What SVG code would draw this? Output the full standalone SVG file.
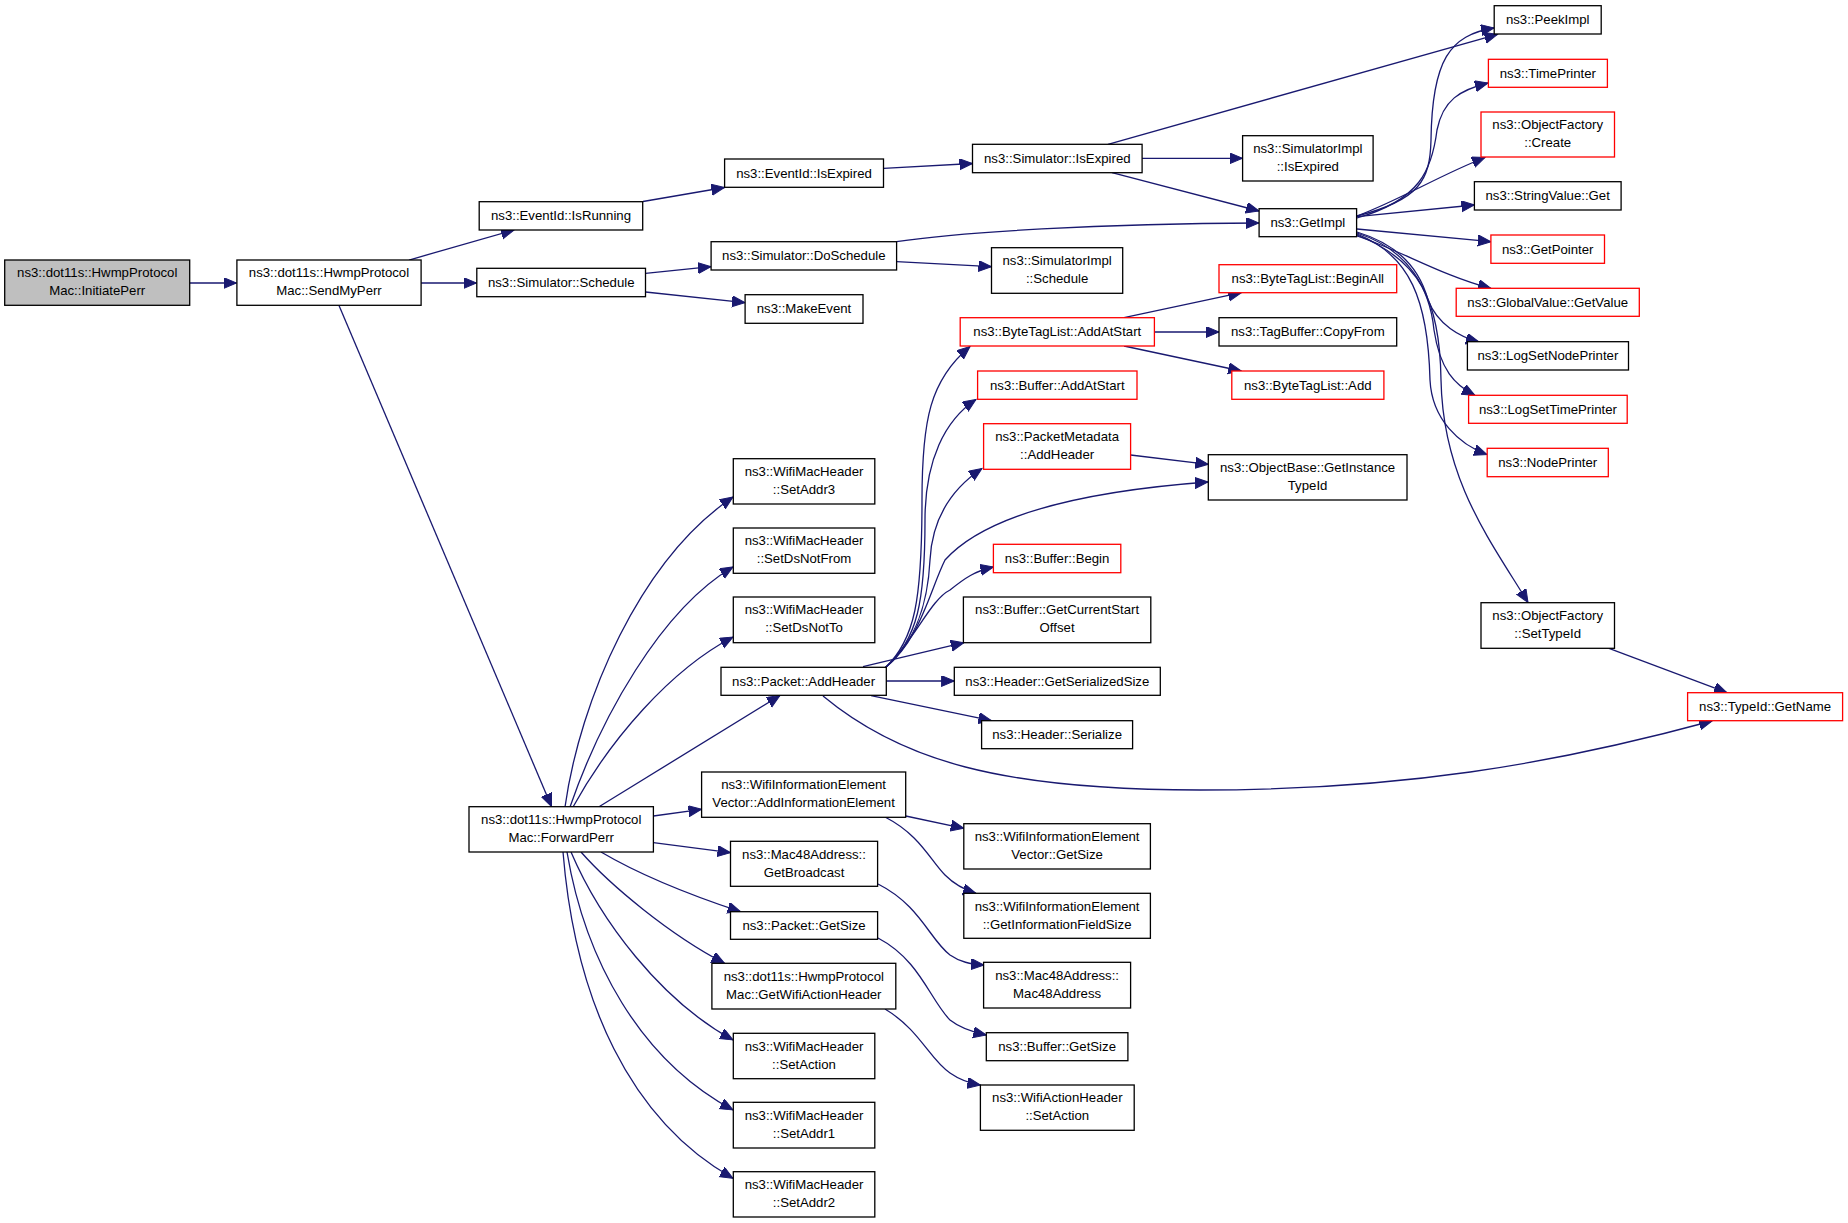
<svg xmlns="http://www.w3.org/2000/svg" width="1848" height="1223" viewBox="0 0 1848 1223">
<style>
rect{fill:#fff;stroke:#000;stroke-width:1.3}
rect.r{stroke:#ff0000}
rect.g{fill:#bfbfbf}
text{font-family:"Liberation Sans",Arial,sans-serif;font-size:13.2px;fill:#000;text-anchor:middle}
#edges path{fill:none;stroke:#191970;stroke-width:1.3;marker-end:url(#ah)}
</style>
<defs>
<marker id="ah" markerUnits="userSpaceOnUse" markerWidth="14" markerHeight="12" refX="13" refY="5.5" orient="auto">
<path d="M0,0 L13,5.5 L0,11 Z" fill="#191970" stroke="#191970" stroke-width="1"/>
</marker>
</defs>
<rect x="0" y="0" width="1848" height="1223" style="fill:#fff;stroke:none"/>
<g id="edges">
<path d="M190,283 L236.5,283"/>
<path d="M409,260 L514,230"/>
<path d="M421,283 L476.5,283"/>
<path d="M339,305.5 L551.5,806.5"/>
<path d="M643,201.5 L724.5,187.5"/>
<path d="M883.5,168.3 L972.5,163.5"/>
<path d="M1108,144.3 L1497.5,34.3"/>
<path d="M1142,158.3 L1242.5,158.3"/>
<path d="M1112,172.7 L1259,211"/>
<path d="M645.5,273.3 L711,266.7"/>
<path d="M645.5,292 L745,302.7"/>
<path d="M896.6,241.7 C960,232 1100,223.5 1259,223"/>
<path d="M896.6,261.7 L991.5,266.7"/>
<path d="M1357,216 C1420,200 1430,180 1431,140 C1432,60 1450,35 1494,28"/>
<path d="M1357,218 C1420,200 1432,170 1437,130 C1443,100 1460,90 1488,83"/>
<path d="M1357,216 C1400,200 1440,175 1485,157.5"/>
<path d="M1357,216.7 L1474.4,205"/>
<path d="M1357,229 L1490.9,241.7"/>
<path d="M1357,236 C1400,250 1440,275 1491,288.5"/>
<path d="M1357,232 C1400,245 1420,270 1428,300 C1438,325 1460,337 1479,342"/>
<path d="M1357,233 C1410,250 1430,290 1434,330 C1440,370 1455,385 1475,395.5"/>
<path d="M1357,234 C1410,255 1428,300 1430,380 C1432,420 1460,445 1487,454.5"/>
<path d="M1357,235 C1420,260 1440,300 1441,380 C1443,480 1490,540 1528,602.5"/>
<path d="M1609,648.3 L1727,692.7"/>
<path d="M823,696 C900,760 1000,790 1200,790 C1400,790 1550,765 1712,721"/>
<path d="M885,668 C915,640 922,600 922,500 C922,420 930,380 970,346.5"/>
<path d="M885,668 C918,640 925,600 925,520 C925,460 945,420 976,399.5"/>
<path d="M885,668 C918,640 928,600 930,560 C932,520 950,490 982,468.5"/>
<path d="M885,668 C920,640 930,590 945,560 C990,510 1100,490 1208,482"/>
<path d="M1130.6,455 L1208.3,464.3"/>
<path d="M885,668 C915,640 930,600 950,590 C965,578 975,571 993.4,567"/>
<path d="M863,666.7 L963.8,642.7"/>
<path d="M886.3,681 L954.3,681"/>
<path d="M871,695.7 L991.5,720.7"/>
<path d="M1124,317.7 L1241.3,292.7"/>
<path d="M1154.4,332 L1219,332"/>
<path d="M1124,346 L1241.3,371"/>
<path d="M565,807 C580,700 640,560 733,497"/>
<path d="M570,807 C600,720 660,610 733,567"/>
<path d="M573,807 C610,740 670,670 733,637"/>
<path d="M599,806.7 L780,695.5"/>
<path d="M653.4,816 L701.6,809.3"/>
<path d="M653.4,842.7 L730.5,852.7"/>
<path d="M601,852 C640,875 690,895 740.5,911.7"/>
<path d="M581,852 C610,885 670,935 724.6,963.3"/>
<path d="M571,852 C600,920 660,1000 733,1040"/>
<path d="M567,852 C585,960 640,1060 733,1110"/>
<path d="M563,852 C575,1000 630,1120 733,1178.3"/>
<path d="M905.7,816 L963.8,828.3"/>
<path d="M885,817 C920,835 930,860 945,875 C955,885 965,890 976,893.3"/>
<path d="M878,884 C920,905 930,940 950,955 C960,962 970,964 984,965"/>
<path d="M878,938 C920,960 930,1000 950,1020 C960,1028 972,1032 986.3,1035"/>
<path d="M885,1009 C920,1030 930,1060 950,1073 C960,1080 968,1083 980.4,1085"/>
</g>
<g id="n0"><rect class="g" x="4.7" y="260" width="185" height="45.3"/><text x="97.2" y="277.2">ns3::dot11s::HwmpProtocol</text><text x="97.2" y="295.2">Mac::InitiatePerr</text></g>
<g id="n1"><rect x="236.9" y="260" width="184.2" height="45.3"/><text x="329" y="277.2">ns3::dot11s::HwmpProtocol</text><text x="329" y="295.2">Mac::SendMyPerr</text></g>
<g id="n2"><rect x="479.2" y="201.7" width="163.5" height="28.3"/><text x="561" y="220.3">ns3::EventId::IsRunning</text></g>
<g id="n3"><rect x="476.8" y="268.3" width="168.7" height="28.4"/><text x="561.2" y="287">ns3::Simulator::Schedule</text></g>
<g id="n4"><rect x="469" y="806.7" width="184.4" height="45.3"/><text x="561.2" y="823.9">ns3::dot11s::HwmpProtocol</text><text x="561.2" y="841.9">Mac::ForwardPerr</text></g>
<g id="n5"><rect x="724.6" y="159" width="158.9" height="28.3"/><text x="804" y="177.6">ns3::EventId::IsExpired</text></g>
<g id="n6"><rect x="972.5" y="144.3" width="169.6" height="28.4"/><text x="1057.3" y="163">ns3::Simulator::IsExpired</text></g>
<g id="n7"><rect x="711.1" y="241.7" width="185.5" height="28.3"/><text x="803.8" y="260.3">ns3::Simulator::DoSchedule</text></g>
<g id="n8"><rect x="991.5" y="247.7" width="131.2" height="45.6"/><text x="1057.1" y="264.9">ns3::SimulatorImpl</text><text x="1057.1" y="282.9">::Schedule</text></g>
<g id="n9"><rect x="745.1" y="294.7" width="117.9" height="28.6"/><text x="804" y="313.4">ns3::MakeEvent</text></g>
<g id="n10"><rect x="1494.2" y="5.7" width="107" height="28.3"/><text x="1547.7" y="24.3">ns3::PeekImpl</text></g>
<g id="n11"><rect class="r" x="1488.4" y="59.3" width="119" height="28"/><text x="1547.9" y="77.8">ns3::TimePrinter</text></g>
<g id="n12"><rect class="r" x="1481" y="112" width="133.5" height="45"/><text x="1547.7" y="129.2">ns3::ObjectFactory</text><text x="1547.7" y="147.2">::Create</text></g>
<g id="n13"><rect x="1474.4" y="181.7" width="146.7" height="28.3"/><text x="1547.7" y="200.3">ns3::StringValue::Get</text></g>
<g id="n14"><rect class="r" x="1490.9" y="235" width="113.6" height="28.3"/><text x="1547.7" y="253.6">ns3::GetPointer</text></g>
<g id="n15"><rect class="r" x="1456.2" y="288.3" width="183.1" height="28"/><text x="1547.7" y="306.8">ns3::GlobalValue::GetValue</text></g>
<g id="n16"><rect x="1242.6" y="135.7" width="130.5" height="45.3"/><text x="1307.8" y="152.9">ns3::SimulatorImpl</text><text x="1307.8" y="170.9">::IsExpired</text></g>
<g id="n17"><rect x="1259.1" y="208.7" width="97.5" height="28"/><text x="1307.8" y="227.2">ns3::GetImpl</text></g>
<g id="n18"><rect class="r" x="1219" y="264.7" width="177.7" height="28"/><text x="1307.8" y="283.2">ns3::ByteTagList::BeginAll</text></g>
<g id="n19"><rect x="1219" y="317.7" width="177.7" height="28.3"/><text x="1307.8" y="336.3">ns3::TagBuffer::CopyFrom</text></g>
<g id="n20"><rect class="r" x="1231.8" y="371" width="152.1" height="28.3"/><text x="1307.8" y="389.6">ns3::ByteTagList::Add</text></g>
<g id="n21"><rect x="1208.3" y="454.7" width="198.7" height="45.3"/><text x="1307.6" y="471.9">ns3::ObjectBase::GetInstance</text><text x="1307.6" y="489.9">TypeId</text></g>
<g id="n22"><rect x="1467.4" y="341.7" width="161.1" height="28.3"/><text x="1547.9" y="360.3">ns3::LogSetNodePrinter</text></g>
<g id="n23"><rect class="r" x="1468.6" y="395.3" width="158.6" height="28"/><text x="1547.9" y="413.8">ns3::LogSetTimePrinter</text></g>
<g id="n24"><rect class="r" x="1487.2" y="448.3" width="121.1" height="28.4"/><text x="1547.7" y="467">ns3::NodePrinter</text></g>
<g id="n25"><rect x="1481" y="602.7" width="133.5" height="45.6"/><text x="1547.7" y="619.9">ns3::ObjectFactory</text><text x="1547.7" y="637.9">::SetTypeId</text></g>
<g id="n26"><rect class="r" x="960.2" y="317.7" width="194.2" height="28.3"/><text x="1057.3" y="336.3">ns3::ByteTagList::AddAtStart</text></g>
<g id="n27"><rect class="r" x="977.6" y="371" width="159.4" height="28.3"/><text x="1057.3" y="389.6">ns3::Buffer::AddAtStart</text></g>
<g id="n28"><rect class="r" x="983.6" y="423.7" width="147" height="45.6"/><text x="1057.1" y="440.9">ns3::PacketMetadata</text><text x="1057.1" y="458.9">::AddHeader</text></g>
<g id="n29"><rect class="r" x="993.4" y="544.3" width="127.4" height="28.4"/><text x="1057.1" y="563">ns3::Buffer::Begin</text></g>
<g id="n30"><rect x="963.4" y="597" width="187.4" height="45.7"/><text x="1057.1" y="614.2">ns3::Buffer::GetCurrentStart</text><text x="1057.1" y="632.2">Offset</text></g>
<g id="n31"><rect x="733.3" y="458.7" width="141.5" height="45.3"/><text x="804" y="475.9">ns3::WifiMacHeader</text><text x="804" y="493.9">::SetAddr3</text></g>
<g id="n32"><rect x="733.3" y="528" width="141.5" height="45.3"/><text x="804" y="545.2">ns3::WifiMacHeader</text><text x="804" y="563.2">::SetDsNotFrom</text></g>
<g id="n33"><rect x="733.3" y="597" width="141.5" height="45.7"/><text x="804" y="614.2">ns3::WifiMacHeader</text><text x="804" y="632.2">::SetDsNotTo</text></g>
<g id="n34"><rect x="721" y="667.3" width="165.3" height="28"/><text x="803.6" y="685.8">ns3::Packet::AddHeader</text></g>
<g id="n35"><rect x="954.3" y="667.3" width="206" height="28"/><text x="1057.3" y="685.8">ns3::Header::GetSerializedSize</text></g>
<g id="n36"><rect x="981.6" y="720.7" width="151" height="28"/><text x="1057.1" y="739.2">ns3::Header::Serialize</text></g>
<g id="n37"><rect x="701.6" y="772" width="204.1" height="45.3"/><text x="803.6" y="789.2">ns3::WifiInformationElement</text><text x="803.6" y="807.2">Vector::AddInformationElement</text></g>
<g id="n38"><rect x="963.8" y="823.7" width="186.6" height="45.3"/><text x="1057.1" y="840.9">ns3::WifiInformationElement</text><text x="1057.1" y="858.9">Vector::GetSize</text></g>
<g id="n39"><rect x="730.5" y="841.3" width="147.1" height="45"/><text x="804" y="858.5">ns3::Mac48Address::</text><text x="804" y="876.5">GetBroadcast</text></g>
<g id="n40"><rect x="963.8" y="893.3" width="186.6" height="45"/><text x="1057.1" y="910.5">ns3::WifiInformationElement</text><text x="1057.1" y="928.5">::GetInformationFieldSize</text></g>
<g id="n41"><rect x="730.5" y="911.7" width="147.1" height="27.6"/><text x="804" y="930">ns3::Packet::GetSize</text></g>
<g id="n42"><rect x="711.9" y="963.3" width="183.9" height="45.7"/><text x="803.8" y="980.5">ns3::dot11s::HwmpProtocol</text><text x="803.8" y="998.5">Mac::GetWifiActionHeader</text></g>
<g id="n43"><rect x="733.3" y="1033.3" width="141.5" height="45.4"/><text x="804" y="1050.5">ns3::WifiMacHeader</text><text x="804" y="1068.5">::SetAction</text></g>
<g id="n44"><rect x="733.3" y="1102.3" width="141.5" height="45.7"/><text x="804" y="1119.5">ns3::WifiMacHeader</text><text x="804" y="1137.5">::SetAddr1</text></g>
<g id="n45"><rect x="733.3" y="1171.7" width="141.5" height="45.3"/><text x="804" y="1188.9">ns3::WifiMacHeader</text><text x="804" y="1206.9">::SetAddr2</text></g>
<g id="n46"><rect x="983.6" y="962.3" width="147" height="45.7"/><text x="1057.1" y="979.5">ns3::Mac48Address::</text><text x="1057.1" y="997.5">Mac48Address</text></g>
<g id="n47"><rect x="986.3" y="1032.7" width="141.6" height="28"/><text x="1057.1" y="1051.2">ns3::Buffer::GetSize</text></g>
<g id="n48"><rect x="980.4" y="1085" width="153.8" height="45.3"/><text x="1057.3" y="1102.2">ns3::WifiActionHeader</text><text x="1057.3" y="1120.2">::SetAction</text></g>
<g id="n49"><rect class="r" x="1687.6" y="692.7" width="155" height="28"/><text x="1765.1" y="711.2">ns3::TypeId::GetName</text></g>
</svg>
